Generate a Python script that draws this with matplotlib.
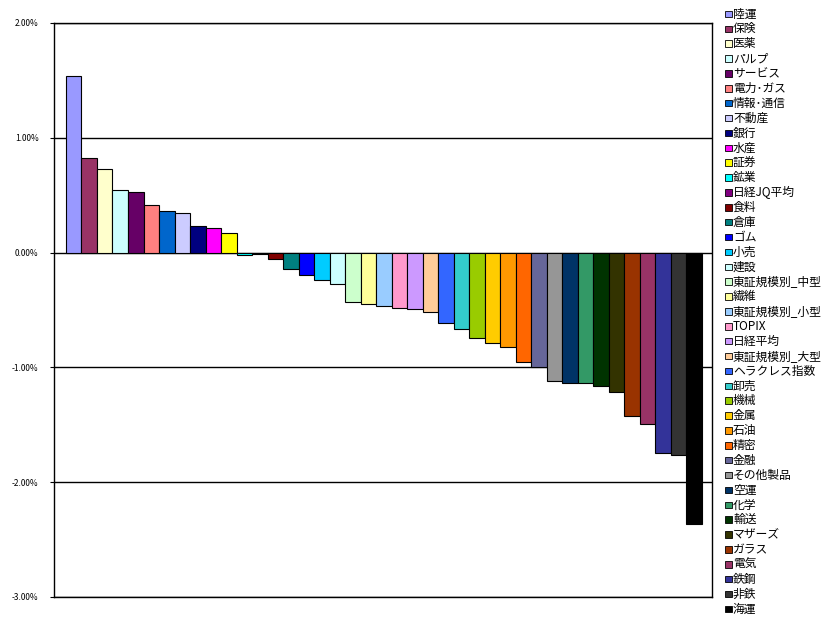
import matplotlib
matplotlib.use("Agg")
import matplotlib.pyplot as plt
from matplotlib.patches import Rectangle
from matplotlib.ticker import FuncFormatter

plt.rcParams['font.family'] = ['Noto Sans CJK JP', 'DejaVu Sans']

categories = ["陸運", "保険", "医薬", "パルプ", "サービス", "電力･ガス", "情報･通信", "不動産",
              "銀行", "水産", "証券", "鉱業", "日経JQ平均", "食料", "倉庫", "ゴム", "小売", "建設",
              "東証規模別_中型", "繊維", "東証規模別_小型", "TOPIX", "日経平均", "東証規模別_大型",
              "ヘラクレス指数", "卸売", "機械", "金属", "石油", "精密", "金融", "その他製品", "空運",
              "化学", "輸送", "マザーズ", "ガラス", "電気", "鉄鋼", "非鉄", "海運"]

values = [1.54, 0.82, 0.73, 0.546, 0.529, 0.416, 0.364, 0.347, 0.234, 0.217, 0.173,
          -0.02, -0.012, -0.055, -0.139, -0.194, -0.243, -0.277, -0.434, -0.451, -0.468,
          -0.486, -0.494, -0.516, -0.612, -0.665, -0.743, -0.787, -0.819, -0.953, -0.997,
          -1.12, -1.137, -1.134, -1.163, -1.216, -1.426, -1.496, -1.749, -1.767, -2.364]

colors = ["#9999FF", "#993366", "#FFFFCC", "#CCFFFF", "#660066", "#FF8080", "#0066CC",
          "#CCCCFF", "#000080", "#FF00FF", "#FFFF00", "#00FFFF", "#800080", "#800000",
          "#008080", "#0000FF", "#00CCFF", "#CCFFFF", "#CCFFCC", "#FFFF99", "#99CCFF",
          "#FF99CC", "#CC99FF", "#FFCC99", "#3366FF", "#33CCCC", "#99CC00", "#FFCC00",
          "#FF9900", "#FF6600", "#666699", "#969696", "#003366", "#339966", "#003300",
          "#333300", "#993300", "#993366", "#333399", "#333333", "#000000"]

y_ticks = [2, 1, 0, -1, -2, -3]

W, H = 834, 624
fig = plt.figure(figsize=(W/100, H/100), dpi=100)
ax = fig.add_axes([54/W, 1 - 597/H, (712-54)/W, (597-23)/H])

x = list(range(len(values)))
ax.bar(x, values, width=1.0, color=colors, edgecolor="black", linewidth=0.8, zorder=3)

ax.set_ylim(-3, 2)
ax.set_xlim(-1.27, len(values) - 1 + 1.15)
ax.set_yticks(y_ticks)
ax.yaxis.set_major_formatter(FuncFormatter(lambda v, p: f"{v:.2f}%"))
ax.tick_params(axis='y', length=3, width=0.8, labelsize=6, pad=8, direction='out')
ax.set_xticks([])
ax.grid(axis='y', color='black', linewidth=1.0, zorder=1)
for s in ax.spines.values():
    s.set_color('black')
    s.set_linewidth(1.0)

# legend drawn entry by entry for exact spacing
top_px, step_px = 14.0, 14.875
for i, (lab, c) in enumerate(zip(categories, colors)):
    yc = top_px + i * step_px
    fig.add_artist(Rectangle((725/W, 1 - (yc + 3.2)/H), 6.5/W, 6.5/H, facecolor=c,
                             edgecolor='black', linewidth=0.6, transform=fig.transFigure))
    fig.text(733/W, 1 - yc/H, lab, fontsize=8.5, va='center', ha='left')

fig.savefig("out.png", dpi=100)
